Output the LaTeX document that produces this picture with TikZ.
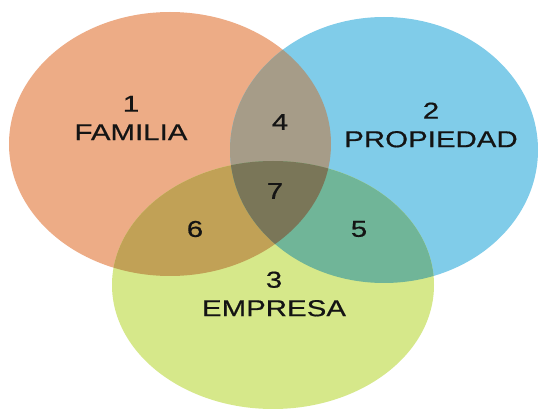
\documentclass[tikz,border=0pt]{standalone}
\usepackage{fontspec}
\newfontfamily\labelfont[FakeStretch=1.28,FakeBold=0.6]{Liberation Sans}
\definecolor{famcol}{RGB}{237,172,134}
\definecolor{propcol}{RGB}{128,204,233}
\definecolor{empcol}{RGB}{214,232,138}
\definecolor{fpcol}{RGB}{166,156,136}
\definecolor{fecol}{RGB}{193,161,86}
\definecolor{pecol}{RGB}{112,181,152}
\definecolor{allcol}{RGB}{122,118,88}
\newcommand\famshape{(cF) ellipse [x radius=161, y radius=132]}
\newcommand\propshape{(cP) ellipse [x radius=154, y radius=133]}
\newcommand\empshape{(cE) ellipse [x radius=161, y radius=124]}
\begin{document}
\begin{tikzpicture}[x=1pt, y=-1pt,
    lbl/.style={align=center, inner sep=0pt, text=black!92,
      font=\labelfont\fontsize{23}{28.5}\selectfont}]
    \useasboundingbox (0,0) rectangle (539,409);
    \fill[white] (0,0) rectangle (539,409);
    \coordinate (cF) at (170,144);
    \coordinate (cP) at (384,150);
    \coordinate (cE) at (273,285);

    % Draw the sets
    \fill[famcol] \famshape;
    \fill[propcol] \propshape;
    \fill[empcol] \empshape;

    % Draw the overlaps
    \begin{scope}
      \clip \famshape;
      \fill[fpcol] \propshape;
      \fill[fecol] \empshape;
    \end{scope}
    \begin{scope}
      \clip \propshape;
      \fill[pecol] \empshape;
    \end{scope}
    \begin{scope}
      \clip \famshape;
      \clip \propshape;
      \fill[allcol] \empshape;
    \end{scope}

    % Labels
    \node[lbl] (fam) at (131,118) {1\\FAMILIA};
    \node[lbl] (prop) at (431,125) {2\\PROPIEDAD};
    \node[lbl] (emp) at (274,294) {3\\EMPRESA};
    \node[lbl] (fp) at (280,122) {4};
    \node[lbl] (pe) at (359,229) {5};
    \node[lbl] (fe) at (195,229) {6};
    \node[lbl] (fpe) at (275,191) {7};
\end{tikzpicture}
\end{document}
